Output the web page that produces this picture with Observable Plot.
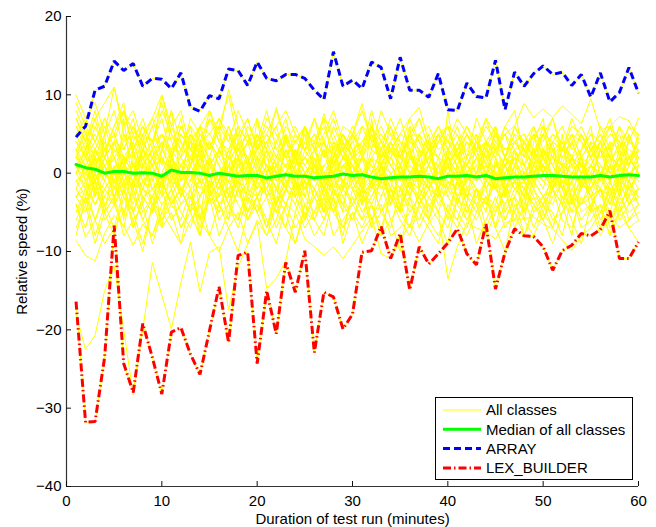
<!DOCTYPE html>
<html><head><meta charset="utf-8">
<script src="https://cdn.jsdelivr.net/npm/d3@7"></script>
<script src="https://cdn.jsdelivr.net/npm/@observablehq/plot@0.6"></script>
<style>body{margin:0;background:#fff}</style>
</head><body><div id="chart"></div>
<script>
const minutes = d3.range(1, 61);
const xTicks = [0, 10, 20, 30, 40, 50, 60];
const yTicks = [-40, -30, -20, -10, 0, 10, 20];

const arrayVals = [4.6,6.0,10.6,11.1,14.3,13.1,14.0,11.1,12.1,12.0,10.8,12.8,8.4,7.9,9.9,9.5,13.3,13.1,11.2,14.2,12.1,11.8,12.6,12.6,12.1,10.6,9.4,15.5,11.1,11.9,10.8,14.2,13.5,9.5,14.8,10.6,10.6,9.7,12.7,8.1,8.0,11.5,9.8,9.6,14.4,8.1,12.9,11.1,12.7,13.7,12.6,12.9,11.2,12.6,9.7,12.8,9.1,10.3,13.5,10.2];
const lexVals = [-16.4,-31.8,-31.7,-23.5,-6.7,-24.3,-28.0,-19.2,-23.5,-28.2,-20.3,-19.7,-23.1,-25.7,-20.1,-14.5,-21.6,-10.5,-10.1,-24.3,-15.0,-20.5,-11.4,-15.2,-9.9,-22.9,-15.2,-15.8,-19.9,-18.0,-10.1,-9.9,-6.8,-10.9,-7.7,-14.9,-9.4,-11.6,-10.3,-8.9,-7.1,-10.3,-11.7,-6.5,-14.8,-10.1,-7.1,-8.0,-8.1,-9.4,-12.4,-9.9,-9.2,-7.7,-8.0,-7.2,-4.8,-10.9,-10.9,-8.8];
const medianVals = [1.1,0.7,0.5,0.0,0.2,0.2,0.0,0.05,0.0,-0.4,0.4,0.1,0.1,0.0,-0.3,0.0,-0.2,-0.4,-0.3,-0.3,-0.6,-0.4,-0.2,-0.4,-0.4,-0.6,-0.5,-0.4,-0.1,-0.3,-0.2,-0.5,-0.7,-0.6,-0.5,-0.5,-0.4,-0.5,-0.7,-0.4,-0.4,-0.3,-0.5,-0.3,-0.7,-0.6,-0.5,-0.5,-0.4,-0.3,-0.3,-0.4,-0.5,-0.5,-0.5,-0.3,-0.5,-0.3,-0.2,-0.3];

const y1 = [3,5,2,-1,4,1,-2,3,6,2,0,-3,1,4,2,-1,3,5,1,-2,0,4,2,-1,3,1,-2,2,5,3,0,-1,2,4,1,-3,0,3,2,-2,1,4,3,0,-1,2,5,1,-2,3,2,0,4,1,-1,3,2,-2,1,3];
const y2 = [-2,-4,-1,-5,-3,0,-2,-6,-3,-1,-4,-2,-5,0,-3,-1,-4,-6,-2,1,-3,-5,-2,-4,0,-3,-1,-5,-2,-4,-6,-1,-3,0,-2,-5,-3,-1,-4,-2,0,-3,-5,-1,-2,-4,-3,0,-2,-5,-1,-3,-4,-2,0,-3,-1,-4,-2,-3];
const y3 = [7,4,8,3,6,9,2,5,7,3,8,4,1,6,3,7,5,2,6,4,8,3,5,1,4,7,2,6,3,5,8,4,2,6,3,7,4,1,5,3,6,2,4,7,3,5,1,4,6,2,5,3,7,4,2,6,3,5,1,4];
const y4 = [-6,-3,-8,-4,-7,-2,-5,-9,-4,-6,-3,-7,-5,-8,-2,-6,-4,-7,-3,-5,-8,-6,-2,-4,-7,-5,-3,-8,-6,-4,-2,-7,-5,-3,-6,-8,-4,-2,-5,-7,-3,-6,-4,-8,-5,-2,-6,-3,-7,-4,-5,-8,-3,-6,-4,-2,-7,-5,-3,-6];
const y5 = [1,-1,2,0,-2,1,3,-1,0,2,-2,1,0,-1,2,1,-3,0,2,-1,1,0,-2,3,1,-1,0,2,-1,1,-2,0,3,1,-1,2,0,-2,1,0,2,-1,1,3,0,-2,1,0,-1,2,1,-1,0,2,-2,1,0,-1,2,0];
const y6 = [4,2,-1,3,0,5,1,-2,2,4,-1,3,6,0,2,-3,1,4,2,-1,3,0,5,2,-2,1,3,0,4,-1,2,5,1,-2,3,0,2,4,-1,1,3,-2,0,4,2,-1,3,1,5,0,-2,2,4,1,-1,3,0,2,5,1];
const y7 = [-1,-3,0,-4,-2,1,-5,-2,-3,0,-1,-4,-2,-6,-1,-3,0,-2,-5,-3,-1,-4,0,-2,-3,-5,-1,-2,-4,0,-3,-1,-5,-2,-4,-1,-3,0,-2,-6,-1,-3,-2,-4,0,-5,-2,-1,-3,-4,0,-2,-5,-1,-3,-2,-4,0,-1,-3];
const y8 = [2,6,-3,5,-4,7,-2,4,-5,3,8,-1,5,-6,2,6,-3,4,-2,7,0,-4,5,-3,6,1,-5,4,-2,5,-4,7,-1,3,-5,6,-2,4,-3,8,0,-4,5,-1,6,-3,3,-5,4,7,-2,5,-4,3,6,-1,4,-3,5,2];
const y9 = [0,2,1,-1,3,2,0,-2,1,3,2,-1,0,2,4,1,-1,2,0,3,1,-2,0,2,1,3,-1,0,2,1,-1,3,2,0,1,-2,2,3,0,1,-1,2,4,1,0,-1,2,1,3,0,-2,1,2,0,3,1,-1,2,0,1];
const y10 = [-3,-1,-4,-2,0,-3,-5,-1,-2,-4,-3,0,-2,-1,-4,-3,-2,0,-5,-1,-3,-2,-4,-1,0,-3,-2,-5,-1,-4,-2,-3,0,-1,-4,-2,-3,-5,-1,-2,-4,0,-3,-1,-2,-4,-5,-2,-1,-3,-4,-1,-2,0,-3,-5,-2,-1,-4,-2];
const y11 = [10,7,9,5,11,6,8,4,7,10,6,8,3,6,5,7,4,8,5,3,6,4,7,2,5,4,6,3,5,2,4,6,3,5,4,2,5,3,6,4,2,5,3,4,6,2,4,5,3,1,4,3,5,2,4,3,1,4,2,3];
const y12 = [6,3,7,2,4,8,5,3,6,9,4,2,7,5,3,6,10,4,7,3,5,8,4,2,6,3,7,5,2,4,6,3,8,5,2,4,7,3,5,6,2,4,3,7,5,2,6,4,3,5,7,2,4,6,3,5,2,6,4,7];
const y13 = [-4,-7,-2,-5,-8,-3,-6,-4,-9,-5,-2,-7,-4,-6,-3,-8,-5,-2,-6,-4,-7,-3,-5,-9,-4,-6,-2,-5,-7,-3,-6,-4,-8,-2,-5,-3,-7,-4,-6,-9,-3,-5,-2,-7,-4,-6,-3,-8,-5,-4,-2,-6,-7,-3,-5,-4,-8,-2,-6,-5];
const y14 = [2,0,3,1,-1,2,4,0,1,-2,3,1,2,0,-1,3,2,1,4,0,-1,2,1,3,0,2,-2,1,3,0,2,1,-1,4,2,0,1,3,-1,2,0,1,4,2,-1,1,3,0,2,1,-1,3,2,0,1,4,0,2,1,3];
const y15 = [-2,1,-3,0,2,-1,-4,1,-2,0,3,-3,-1,2,-2,0,-4,1,-1,2,-3,0,1,-2,-1,3,0,-3,1,-1,2,-2,0,-4,1,-1,3,-2,0,1,-3,-1,2,0,-2,1,-1,-3,2,0,-2,1,-4,0,2,-1,1,-3,0,-1];
const y16 = [-8,-3,2,-5,1,-6,3,-4,0,-7,2,-2,-5,4,-3,-1,-6,2,-4,0,3,-5,-2,1,-6,2,-3,0,-5,3,-2,-7,1,-4,0,-3,2,-6,-1,3,-4,0,-2,-5,2,-3,1,-6,0,-2,3,-4,-1,2,-5,0,-3,1,-4,-2];
const y17 = [5,2,4,7,3,1,5,6,2,4,3,7,1,5,4,2,6,3,5,1,4,6,2,5,3,4,7,1,3,5,2,6,4,3,1,5,2,4,6,3,5,1,4,3,6,2,5,4,2,6,3,1,5,4,2,3,6,4,1,5];
const y18 = [-5,-2,-6,-3,-4,-1,-7,-3,-5,-2,-6,-4,-3,-7,-2,-5,-1,-4,-6,-3,-2,-5,-7,-1,-4,-3,-6,-2,-5,-4,-1,-6,-3,-2,-5,-7,-4,-1,-3,-5,-6,-2,-4,-3,-7,-1,-5,-2,-4,-6,-3,-1,-5,-4,-2,-6,-3,-5,-1,-4];
const y19 = [1,3,0,2,-1,1,0,3,2,-1,1,2,0,-2,1,3,1,0,-1,2,1,-1,3,0,2,1,-2,0,1,2,-1,0,3,1,-1,2,0,1,-2,3,1,0,2,-1,1,0,2,3,-1,1,0,-2,2,1,0,3,-1,1,2,0];
const y20 = [3,-1,1,4,-2,2,0,5,-1,3,1,-3,2,4,0,-1,3,-2,1,5,2,-1,0,3,-3,1,4,-1,2,0,3,-2,1,4,0,-1,2,5,-2,1,3,-1,0,4,-2,2,1,-1,3,0,4,-2,2,1,-1,3,0,2,-3,1];
const y21 = [-1,0,-2,1,-3,0,-1,2,-2,-1,0,-3,1,-1,-2,0,1,-3,-1,0,-2,1,-1,-3,0,-2,1,0,-1,-2,0,-1,1,-3,-2,0,-1,1,-2,0,-3,-1,0,1,-2,-1,0,-3,1,-1,0,-2,-1,1,-3,0,-2,-1,0,-2];
const y22 = [-8.6,-10.5,-11.2,-7.7,-5.4,-6.7,-9.2,-6.5,-8,-5,-7,-9,-6,-4,-8,-10,-7,-5,-9,-6,-8,-4,-7,-9,-5,-6,-8,-3,-7,-5,-9,-6,-4,-8,-7,-5,-3,-6,-8,-5,-7,-4,-9,-6,-3,-7,-5,-8,-4,-6,-9,-5,-3,-7,-6,-4,-8,-5,-7,-6];
const y23 = [4,2,6,3,5,1,4,7,3,5,2,6,4,3,8,5,2,6,4,3,7,5,2,4,6,3,5,8,4,2,6,5,3,7,4,2,5,6,3,4,7,5,3,6,4,5,6,8.9,7.1,8.2,7.1,8.6,7.5,6.3,9.5,5.5,6,7.2,6.7,4.4];
const y24 = [6,4,7,9,11,5,3,6,4,8,5,3,6,4,7,5,10.7,6,4,3,5,2,4,6,3,5,4,7,3,5,8.9,4,6,3,5,7,8.4,4,2,5,3,6,4,2,5,3,4,2,5,6,3,4,2,5,3,4,6,2,4,3];
const y25 = [-3,-5,-1,-6,-4,-2,-7,-3,-5,-1,-4,-6,-2,-8,-3,-5,-4,-1,-6,-3,-7,-2,-4,-5,-1,-6,-3,-4,-8,-2,-5,-3,-1,-6,-4,-7,-2,-3,-5,-1,-4,-6,-3,-2,-7,-4,-1,-5,-3,-6,-2,-4,-8,-1,-3,-5,-2,-6,-4,-3];
const y26 = [8,5,3,6,2,4,7,1,3,9.9,5,2,4,6,1,3,5,2,4,7,3,1,5,2,6,3,4,1,5,2,3,6,1,4,2,5,3,1,4,6,2,3,5,1,4,2,6,3,1,5,2,4,1,3,5,2,4,3,1,5];
const y27 = [0,-2,-1,1,-3,-1,0,-2,-4,-1,1,-2,0,-3,-1,-2,1,-1,-3,0,-2,-4,-1,0,-2,1,-3,-1,-2,0,-4,-1,1,-2,-3,0,-1,-2,1,-3,-1,0,-2,-4,-1,1,-2,-3,0,-1,-2,1,-3,-1,-2,0,-4,-1,-2,0];
const y28 = [2,4,1,3,5,2,0,3,1,4,2,5,3,1,4,2,0,3,5,2,4,1,3,2,5,0,3,1,4,2,3,5,1,2,4,3,0,2,5,1,3,4,2,0,3,1,4,5,2,3,1,4,2,0,3,5,2,1,4,3];
const y29 = [-7,-4,-9,-5,-3,-8,-6,-10,-4,-7,-5,-9,-3,-6,-8,-4,-7,-10,-5,-3,-6,-9,-4,-7,-5,-8,-6,-3,-9,-5,-7,-4,-8,-6,-10,-3,-5,-7,-9,-4,-6,-8,-5,-3,-7,-10,-4,-6,-8,-5,-7,-3,-6,-9,-4,-8,-5,-7,-6,-4];
const y30 = [1,-2,3,0,-1,2,-3,1,0,-2,2,-1,1,3,-2,0,1,-1,2,-3,0,1,-2,2,0,-1,3,-2,1,0,-1,2,-2,0,1,3,-1,0,-2,2,1,-3,0,1,-1,2,0,-2,1,3,-1,0,2,-2,1,0,-1,3,-2,0];
const y31 = [5,7,4,2,6,8,3,5,4,7,2,5,3,6,8,4,2,5,7,3,4,6,8,5,3,7,4,2,6,5,3,8,4,6,2,5,7,3,4,6,5,2,7,4,3,6,8,2,5,4,7,3,6,5,2,4,7,3,6,5];
const y32 = [-4,-8.2,-6,-9,-7,-5,-3,-6,-8,-4,-2,-5,-7,-3,-1,-4,-6,-2,-5,-3,-7,-4,-1,-3,-6,-2,-5,-4,-3,-6,-2,-4,-7,-3,-5,-1,-4,-6,-2,-3,-5,-7,-2,-4,-1,-6,-3,-5,-2,-4,-7,-3,-1,-5,-4,-2,-6,-3,-5,-4];
const y33 = [3,1,-2,2,4,0,-1,3,1,-3,2,0,4,1,-2,3,0,2,-1,4,1,-2,3,0,2,4,-1,1,3,-2,0,2,4,1,-1,3,0,-2,2,1,4,0,-1,3,2,-2,1,4,0,2,-1,3,1,-2,4,0,2,1,-1,3];
const y34 = [-5,-3,-6,-2,-4,-7,-1,-5,-3,-6,-4,-2,-5,-8,-3,-1,-4,-6,-2,-5,-3,-7,-4,-1,-6,-3,-5,-2,-4,-6,-3,-1,-5,-7,-2,-4,-6,-3,-2,-5,-1,-4,-6,-3,-5,-2,-7,-4,-1,-3,-6,-5,-2,-4,-3,-7,-1,-5,-3,-2];
const y35 = [7,4,2,5,8,3,6,2,4,1,6,3,5,2,7,4,3,6,1,5,3,8.4,4,2,6,3,7.6,4,2,5,3,6,2,4,7,3,5,1,4,6,2,5,3,4,2,6,4,3,5,2,4,6,3,5,2,4,3,6,2,4];
const y36 = [0,1,-1,2,0,-2,1,0,2,-1,0,1,-2,2,0,-1,1,2,-1,0,-2,1,0,2,-1,1,0,-2,1,2,0,-1,1,0,-2,2,1,-1,0,1,-1,2,0,-2,1,0,2,-1,0,1,-2,0,1,2,-1,0,1,-1,2,0];
const y37 = [-2,-4,0,-3,-1,-5,-2,0,-4,-3,-1,-2,-5,-3,0,-4,-2,-1,-3,-5,0,-2,-4,-1,-3,-2,-5,0,-3,-1,-4,-2,0,-3,-5,-1,-2,-4,-3,0,-1,-5,-2,-3,-4,0,-2,-1,-5,-3,-2,-4,0,-1,-3,-2,-5,-1,-4,-3];
const y38 = [9,6,4,7,5,8,3,6,4,5,2,6,3,4,5,3,6,2,4,5,3,2,6,4,3,5,2,4,3,6,2,4,5,3,2,6,4,3,5,2,4,6,3,2,5,3,4,2,6,3,5,4,2,3,5,4,2,3,6,4];
const y39 = [1,0,2,1,-1,0,1,2,0,-1,1,0,2,1,0,-1,1,2,0,1,-1,0,1,2,0,1,-1,0,2,1,0,1,-1,2,0,1,0,-1,1,2,0,1,-1,0,1,2,0,-1,1,0,2,1,0,-1,1,0,2,1,0,1];
const y40 = [-1,0,-1,-2,0,-1,1,-1,0,-2,-1,0,-1,1,-2,0,-1,-1,0,-2,1,-1,0,-1,-2,0,-1,1,-1,0,-2,-1,0,-1,1,-2,0,-1,0,-1,-2,0,1,-1,0,-2,-1,0,-1,1,-2,-1,0,-1,0,-2,1,-1,0,-1];
const y41 = [2,1,3,2,0,2,1,3,1,2,0,1,3,2,1,0,2,3,1,2,0,2,1,3,2,0,1,2,3,1,2,0,1,3,2,1,0,2,1,3,2,1,0,2,3,1,2,1,0,3,2,1,2,0,1,3,2,1,2,0];
const y42 = [-3,-2,-4,-1,-3,-2,0,-3,-2,-1,-4,-2,-3,-1,-2,-4,-3,-1,-2,-3,-1,-4,-2,-3,-1,-2,-4,-3,-1,-2,-3,-4,-1,-2,-3,-1,-4,-2,-3,-1,-2,-3,-4,-1,-2,-3,-1,-2,-4,-3,-1,-2,-3,-4,-1,-2,-3,-1,-2,-4];
const y43 = [0,3,-1,1,2,-2,0,1,3,-1,2,0,-1,3,1,-2,2,0,1,-1,3,0,-2,1,2,0,-1,3,0,1,-2,2,1,-1,0,3,-2,1,0,2,-1,1,3,-2,0,1,2,-1,0,3,1,-2,0,2,1,-1,3,0,-1,2];
const y44 = [4,3,5,2,4,3,6,4,2,5,3,4,2,5,3,6,4,3,2,4,5,3,2,4,6,3,4,2,5,3,4,6,2,3,5,4,3,2,5,4,3,5,2,4,3,5,3,4,2,5,4,3,5,2,4,3,5,4,3,2];
const lowA = [-18,-22.5,-20.7,-15,-11.8,-20,-28.3,-20,-11.4,-15.6,-19.9,-14,-8.8,-15.2,-10.1,-9.4,-17.5,-12,-9,-6.3,-14.7,-13.4,-11.2,-5,-8.4,-9.4,-10.5,-9.4,-10.9,-9.2,-7.4,-5.6,-10.3,-10.9,-8.6,-6.5,-8.8,-6.3,-4.8,-13.5,-9.4,-6.3,-7,-7.5,-8.4,-6.3,-6,-5.8,-5.6,-6.5,-7.1,-8.5,-9.9,-8,-7,-5,-6,-4,-7,-8.8];

const classSeries = [y1,y2,y3,y4,y5,y6,y7,y8,y9,y10,y11,y12,y13,y14,y15,y16,y17,y18,y19,y20,y21,y22,y23,y24,y25,y26,y27,y28,y29,y30,y31,y32,y33,y34,y35,y36,y37,y38,y39,y40,y41,y42,y43,y44,lowA,arrayVals,lexVals];

const toRows = (vals, name) => vals.map((v, i) => ({x: minutes[i], y: v, s: name}));
const yellowRows = classSeries.flatMap((vals, k) => toRows(vals, "c" + k));
const medianRows = toRows(medianVals, "median");
const arrayRows = toRows(arrayVals, "ARRAY");
const lexRows = toRows(lexVals, "LEX_BUILDER");

const FONT = "'Liberation Sans', Arial, Helvetica, sans-serif";
const ARRAY_DASH = "7,4";
const LEX_DASH = "8,3,1.5,3";

const chart = Plot.plot({
  width: 656, height: 527,
  marginLeft: 66, marginRight: 18, marginTop: 16, marginBottom: 41,
  x: {domain: [0, 60]},
  y: {domain: [-40, 20]},
  style: {fontFamily: FONT, fontSize: "15px", background: "white", color: "black"},
  marks: [
    Plot.line(yellowRows, {x: "x", y: "y", z: "s", stroke: "#ffff00", strokeWidth: 1}),
    Plot.line(medianRows, {x: "x", y: "y", stroke: "#00ff00", strokeWidth: 3}),
    Plot.line(arrayRows, {x: "x", y: "y", stroke: "#0000ff", strokeWidth: 3, strokeDasharray: ARRAY_DASH, strokeLinecap: "butt", strokeLinejoin: "miter"}),
    Plot.line(lexRows, {x: "x", y: "y", stroke: "#ff0000", strokeWidth: 3, strokeDasharray: LEX_DASH, strokeLinecap: "butt", strokeLinejoin: "miter"}),
    Plot.ruleX([0], {stroke: "#333", strokeWidth: 1.2}),
    Plot.ruleY([-40], {stroke: "#333", strokeWidth: 1.2}),
    Plot.axisX({ticks: xTicks, tickSize: 0, tickPadding: 9, fontSize: 15, label: "Duration of test run (minutes)", labelAnchor: "center", labelOffset: 37, labelArrow: "none"}),
    Plot.axisX({ticks: xTicks, tickSize: 5, fill: "none", dy: -5, stroke: "#111", label: null}),
    Plot.axisY({ticks: yTicks, tickSize: 0, tickPadding: 5, fontSize: 15, label: "Relative speed (%)", labelAnchor: "center", labelOffset: 50, labelArrow: "none"}),
    Plot.axisY({ticks: yTicks, tickSize: 5, fill: "none", dx: 5, stroke: "#111", label: null})
  ]
});
chart.style.display = "block";
document.getElementById("chart").appendChild(chart);

// legend
const legendItems = [
  {label: "All classes", stroke: "#ffff00", width: 1, dash: null},
  {label: "Median of all classes", stroke: "#00ff00", width: 3, dash: null},
  {label: "ARRAY", stroke: "#0000ff", width: 3, dash: ARRAY_DASH},
  {label: "LEX_BUILDER", stroke: "#ff0000", width: 3, dash: LEX_DASH}
];
const svg = d3.select(chart);
const lg = svg.append("g").attr("font-family", FONT).attr("font-size", 15).attr("text-anchor", "start");
lg.append("rect").attr("x", 435.5).attr("y", 397.5).attr("width", 197).attr("height", 82)
  .attr("fill", "white").attr("stroke", "black").attr("stroke-width", 1);
legendItems.forEach((it, k) => {
  const cy = 410 + k * 19.3;
  lg.append("line").attr("x1", 443).attr("x2", 481).attr("y1", cy).attr("y2", cy)
    .attr("stroke", it.stroke).attr("stroke-width", it.width).attr("stroke-dasharray", it.dash);
  lg.append("text").attr("x", 486).attr("y", cy).attr("dy", "0.36em").attr("fill", "black")
    .attr("text-anchor", "start").text(it.label);
});
</script>
</body></html>
